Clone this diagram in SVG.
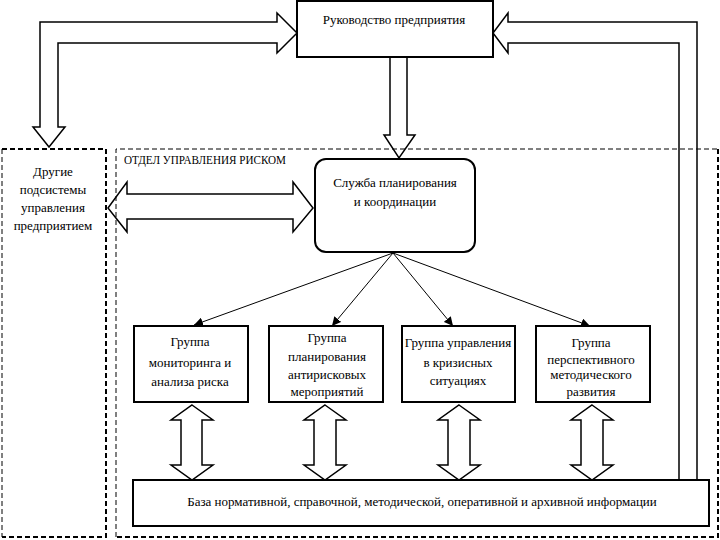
<svg xmlns="http://www.w3.org/2000/svg" width="720" height="540" viewBox="0 0 720 540">
<style>
text{font-family:"Liberation Serif","Times New Roman",serif;font-size:13px;fill:#000;text-anchor:middle}
.box{fill:#fff;stroke:#000;stroke-width:2}
.blk{fill:none;stroke:#000;stroke-width:1.5;stroke-linejoin:miter}
.ln{stroke:#000;stroke-width:1;fill:none}
.dthick{fill:none;stroke:#000;stroke-width:2;stroke-dasharray:5 3}
.dthin{fill:none;stroke:#000;stroke-width:1;stroke-dasharray:5 3}
</style>
<defs>
<marker id="ah" viewBox="0 0 10 10" refX="10" refY="5" markerWidth="9" markerHeight="9" orient="auto" markerUnits="userSpaceOnUse">
<path d="M0,0 L10,5 L0,10 Z" fill="#000"/>
</marker>
</defs>
<rect width="720" height="540" fill="#fff"/>

<g id="other-subsystems">
<path class="dthick" d="M2,149 H106 V537 H2"/>
<path class="dthin" d="M2,149 V537"/>
<text x="53" y="176">Другие</text>
<text x="53" y="194">подсистемы</text>
<text x="53" y="212">управления</text>
<text x="53" y="230">предприятием</text>
</g>

<g id="risk-department">
<path class="dthin" d="M116,537 V149 H718"/>
<path class="dthick" d="M718,149 V537 H116"/>
<text x="124" y="164" style="text-anchor:start;font-size:12px" textLength="162" lengthAdjust="spacingAndGlyphs">ОТДЕЛ УПРАВЛЕНИЯ РИСКОМ</text>
</g>

<g id="management">
<rect class="box" x="297" y="1" width="196" height="56"/>
<text x="394" y="24">Руководство предприятия</text>
</g>

<g id="service">
<rect class="box" x="315" y="159" width="160" height="93" rx="11" ry="11"/>
<text x="395" y="187">Служба планирования</text>
<text x="395" y="206">и координации</text>
</g>

<g id="group1">
<rect class="box" x="134" y="326" width="114" height="76"/>
<text x="190" y="346">Группа</text>
<text x="190" y="367">мониторинга и</text>
<text x="190" y="386">анализа риска</text>
</g>

<g id="group2">
<rect class="box" x="269" y="326" width="114" height="76"/>
<text x="327" y="342">Группа</text>
<text x="327" y="361">планирования</text>
<text x="327" y="379">антирисковых</text>
<text x="327" y="396">мероприятий</text>
</g>

<g id="group3">
<rect class="box" x="402" y="326" width="113" height="76"/>
<text x="458" y="347">Группа управления</text>
<text x="458" y="367">в кризисных</text>
<text x="458" y="385">ситуациях</text>
</g>

<g id="group4">
<rect class="box" x="536" y="326" width="114" height="76"/>
<text x="591" y="347">Группа</text>
<text x="591" y="364">перспективного</text>
<text x="591" y="379">методического</text>
<text x="591" y="396">развития</text>
</g>

<g id="database">
<rect class="box" x="133" y="480" width="576" height="46"/>
<text x="422" y="506">База нормативной, справочной, методической, оперативной и архивной информации</text>
</g>

<g id="connectors">
<!-- management <-> other subsystems -->
<path class="blk" d="M40,127 V22 H277 V13 L297,33 L277,53 V43 H58 V127 H65 L49,147 L33,127 Z"/>
<!-- database -> management -->
<path class="blk" d="M697,480 V22 H508 V13 L493,33 L508,53 V43 H679 V480"/>
<!-- management -> service -->
<path class="blk" d="M390,57 V135 H384 L399,158 L415,135 H407 V57"/>
<!-- other subsystems <-> service -->
<path class="blk" d="M108,208 L127,182 V194 H293 V182 L313,208 L293,232 V219 H127 V232 Z"/>
<!-- service -> groups -->
<line class="ln" x1="393" y1="253" x2="194" y2="325" marker-end="url(#ah)"/>
<line class="ln" x1="393" y1="253" x2="332" y2="326" marker-end="url(#ah)"/>
<line class="ln" x1="393" y1="253" x2="453" y2="326" marker-end="url(#ah)"/>
<line class="ln" x1="393" y1="253" x2="590" y2="326" marker-end="url(#ah)"/>
<!-- groups <-> database -->
<path class="blk" d="M192,405 L213,420 H202 V465 H213 L192,480 L171,465 H181 V420 H171 Z"/>
<path class="blk" d="M325,405 L346,420 H336 V465 H346 L325,480 L304,465 H314 V420 H304 Z"/>
<path class="blk" d="M459,405 L480,420 H470 V465 H480 L459,480 L438,465 H448 V420 H438 Z"/>
<path class="blk" d="M592,405 L613,420 H603 V465 H613 L592,480 L571,465 H581 V420 H571 Z"/>
</g>
</svg>
